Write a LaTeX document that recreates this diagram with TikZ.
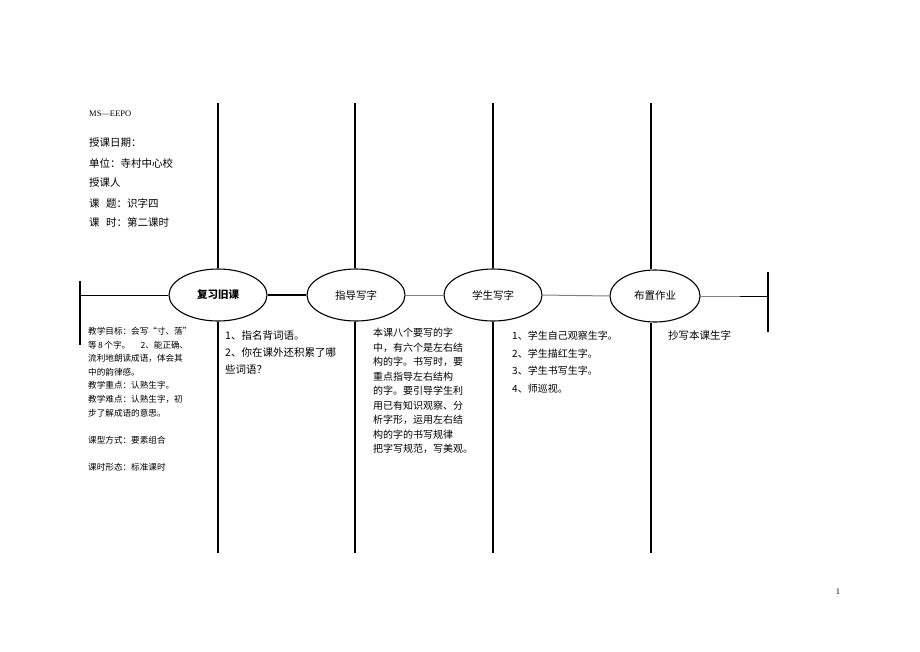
\documentclass[tikz,border=0pt]{standalone}
\usepackage{fontspec}
\setmainfont{Liberation Serif}
\newfontfamily\cjk{Noto Sans CJK SC}
\usetikzlibrary{shapes.geometric}
\begin{document}
\begin{tikzpicture}[x=1pt,y=-1pt,
  vline/.style={line width=1.6pt,black},
  hline/.style={line width=1pt,black},
  stage/.style={draw,line width=1.1pt,ellipse,minimum width=98pt,minimum height=52pt,inner sep=0pt,font=\cjk\fontsize{10.5}{12}\selectfont},
  info/.style={anchor=west,inner sep=0pt,font=\cjk\fontsize{10.5}{12}\selectfont},
  colA/.style={anchor=north west,inner sep=0pt,align=left,font=\cjk\fontsize{8.6}{13.6}\selectfont},
  colB/.style={anchor=north west,inner sep=0pt,align=left,font=\cjk\fontsize{10.5}{17}\selectfont},
  colC/.style={anchor=north west,inner sep=0pt,align=left,font=\cjk\fontsize{10}{14.5}\selectfont},
  colD/.style={anchor=north west,inner sep=0pt,align=left,font=\cjk\fontsize{10}{17.5}\selectfont}]
\useasboundingbox (0,0) rectangle (920,651);
% header
\node[anchor=west,inner sep=0pt,font=\fontsize{8.5}{10}\selectfont] (ms) at (89,114) {MS—EEPO};
\node[info] (t1) at (89,143) {授课日期：};
\node[info] (t2) at (89,163) {单位：寺村中心校};
\node[info] (t3) at (89,183) {授课人};
\node[info] (t4) at (89,203) {课\hspace{0.6em}题：识字四};
\node[info] (t5) at (89,222) {课\hspace{0.6em}时：第二课时};
% ellipses
\node[stage,font=\cjk\bfseries\fontsize{10.5}{12}\selectfont] (e1) at (218,295) {复习旧课};
\node[stage] (e2) at (356,295) {指导写字};
\node[stage] (e3) at (493,295) {学生写字};
\node[stage,minimum width=90pt] (e4) at (655,296) {布置作业};
% vertical lines
\coordinate (v1t) at (218,103); \coordinate (v1b) at (218,553);
\coordinate (v2t) at (355,103); \coordinate (v2b) at (355,553);
\coordinate (v3t) at (493,103); \coordinate (v3b) at (493,553);
\coordinate (v4t) at (651,103); \coordinate (v4b) at (651,553);
\draw[vline] (v1t) -- (e1.north);
\draw[vline] (e1.south) -- (v1b);
\draw[vline] (v2t) -- (e2.north -| v2t);
\draw[vline] (e2.south -| v2b) -- (v2b);
\draw[vline] (v3t) -- (e3.north);
\draw[vline] (e3.south) -- (v3b);
\draw[vline] (v4t) -- (e4.north -| v4t);
\draw[vline] (e4.south -| v4b) -- (v4b);
% end bars
\coordinate (lt) at (80,281); \coordinate (lb) at (80,345);
\coordinate (rt) at (768,272); \coordinate (rb) at (768,332);
\draw[vline] (lt) -- (lb);
\draw[vline] (rt) -- (rb);
% horizontal connectors
\coordinate (lm) at (80,295);
\draw[hline] (lm) -- (e1.west);
\draw[line width=2.2pt] (e1.east) -- (e2.west);
\draw[hline,gray] (e2.east) -- (e3.west);
\draw[hline,gray] (e3.east) -- (e4.west);
\coordinate (rm) at (768,296);
\coordinate (rg) at (740,296);
\draw[hline,gray] (e4.east) -- (rg);
\draw[hline] (rg) -- (rm);
% column texts
\node[colA] (ca) at (88,327) {教学目标：会写“寸、落”\\等\,8\,个字。\hspace{1.2em}2、能正确、\\流利地朗读成语，体会其\\中的韵律感。\\教学重点：认熟生字。\\教学难点：认熟生字，初\\步了解成语的意思。\\[13.6pt]课型方式：要素组合\\[13.6pt]课时形态：标准课时};
\node[colB] (cb) at (225,330) {1、指名背词语。\\2、你在课外还积累了哪\\些词语？};
\node[colC] (cc) at (373,328) {本课八个要写的字\\中，有六个是左右结\\构的字。书写时，要\\重点指导左右结构\\的字。要引导学生利\\用已有知识观察、分\\析字形，运用左右结\\构的字的书写规律\\把字写规范，写美观。};
\node[colD] (cd) at (512,331) {1、学生自己观察生字。\\2、学生描红生字。\\3、学生书写生字。\\4、师巡视。};
\node[colB] (ce) at (668,330) {抄写本课生字};
\node[inner sep=0pt,font=\fontsize{8.5}{10}\selectfont] (pg) at (838,592) {1};
\end{tikzpicture}
\end{document}
